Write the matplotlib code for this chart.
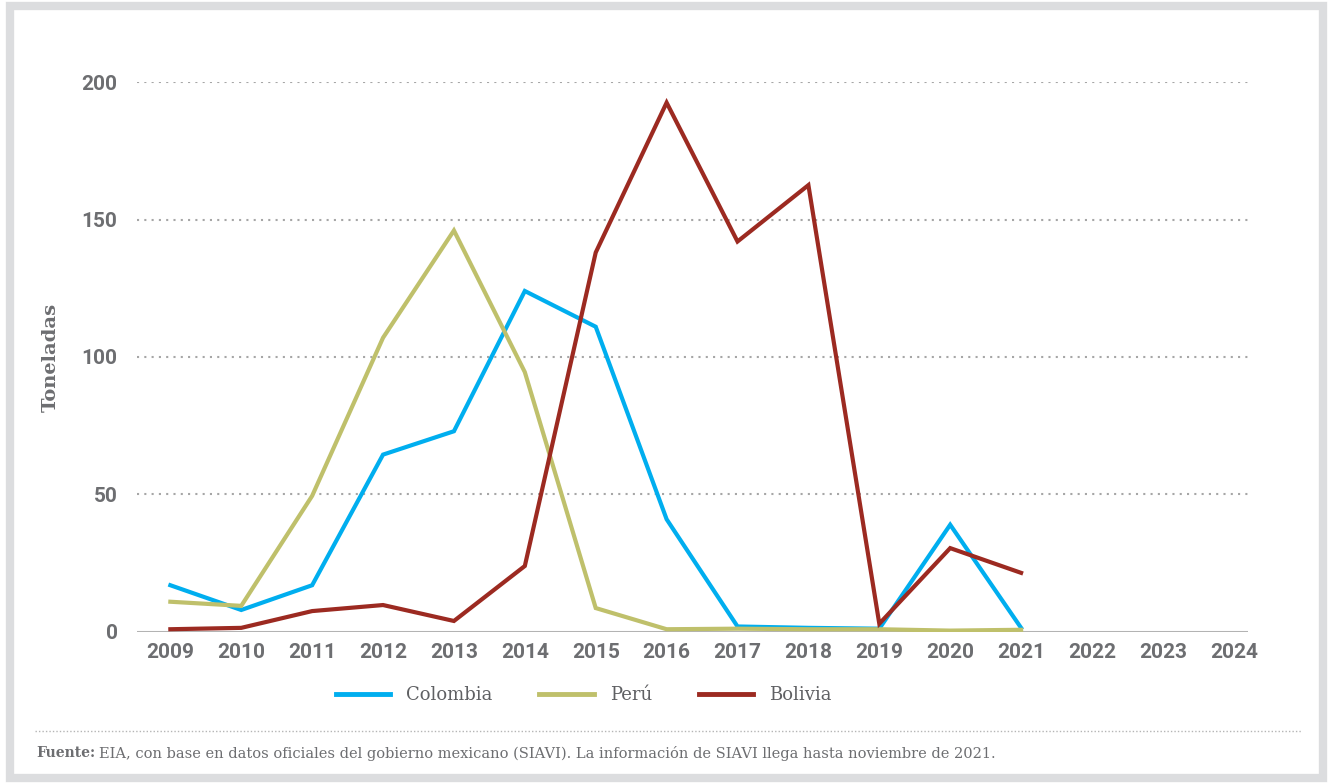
import numpy as np
import matplotlib
matplotlib.use("Agg")
import matplotlib.pyplot as plt
from matplotlib.patches import Rectangle
from matplotlib.lines import Line2D

# data (toneladas)
years = list(range(2009, 2022))
all_years = list(range(2009, 2025))
colombia = [17, 8, 17, 64.5, 73, 124, 111, 41, 2, 1.5, 1.2, 39, 1.5]
peru = [11, 9.5, 49.5, 107, 146, 94.5, 8.7, 1, 1.2, 1, 1, 0.5, 0.8]
bolivia = [1, 1.5, 7.6, 9.8, 4, 24, 138, 192.5, 142, 162.5, 3, 30.5, 21.5]
y_ticks = [0, 50, 100, 150, 200]

c_col = "#00aeef"
c_per = "#bfc06b"
c_bol = "#9c2a21"
gray = "#6d6e71"

fig = plt.figure(figsize=(13.33, 7.84), dpi=100)

# outer grey frame
fig.patches.append(Rectangle((0.0075, 0.0075), 0.985, 0.985, transform=fig.transFigure,
                             fill=False, edgecolor="#dcdddf", linewidth=6))

ax = fig.add_axes([0.1028, 0.1939, 0.8334, 0.7015])

ax.plot(years, colombia, color=c_col, lw=3, label="Colombia", solid_joinstyle="miter")
ax.plot(years, peru, color=c_per, lw=3, label="Perú", solid_joinstyle="miter")
ax.plot(years, bolivia, color=c_bol, lw=3, label="Bolivia", solid_joinstyle="miter")

ax.set_xlim(2008.53, 2024.2)
ax.set_ylim(0, 200)
ax.set_xticks(all_years)
ax.set_yticks(y_ticks)
ax.tick_params(length=0, labelsize=15, labelcolor=gray)
for lab in ax.get_xticklabels() + ax.get_yticklabels():
    lab.set_fontfamily("Roboto")
    lab.set_fontweight("bold")
ax.tick_params(axis="y", pad=14)
ax.tick_params(axis="x", pad=8)

for v in y_ticks[1:]:
    ax.axhline(v, color="#a6a6a6", lw=1.5, ls=(0, (1, 2.5)), zorder=0)
ax.axhline(0, color="#b3b3b3", lw=2.2, zorder=1)

for s in ax.spines.values():
    s.set_visible(False)

ax.set_ylabel("Toneladas", fontsize=14, color=gray, fontweight="bold",
              fontfamily="DejaVu Serif", labelpad=16)

handles = [Line2D([], [], color=c, lw=3.5) for c in (c_col, c_per, c_bol)]
leg = fig.legend(handles, ["Colombia", "Perú", "Bolivia"], loc="center",
                 bbox_to_anchor=(0.438, 0.113), ncol=3, frameon=False,
                 handlelength=3.0, handletextpad=0.9, columnspacing=2.6,
                 prop={"family": "DejaVu Serif", "size": 13})
for t in leg.get_texts():
    t.set_color("#5f6063")

# footnote separator and source
fig.add_artist(Line2D([0.026, 0.976], [0.0675, 0.0675], transform=fig.transFigure,
                      color="#b5b5b5", lw=1, ls=(0, (1, 1.5))))
fig.text(0.027, 0.039, "Fuente:", fontsize=10, fontweight="bold", color=gray,
         fontfamily="DejaVu Serif", va="center")
fig.text(0.0743, 0.039,
         "EIA, con base en datos oficiales del gobierno mexicano (SIAVI). "
         "La información de SIAVI llega hasta noviembre de 2021.",
         fontsize=10.5, color=gray, fontfamily="DejaVu Serif", va="center")

fig.savefig("out.png", dpi=100)
